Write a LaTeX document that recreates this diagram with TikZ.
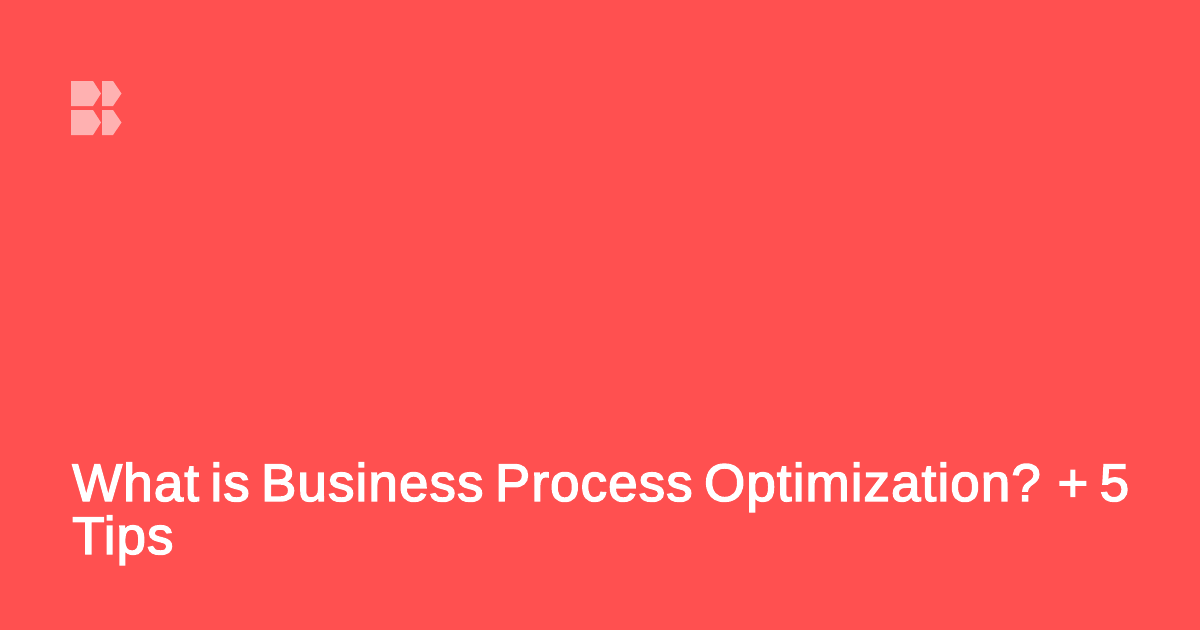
\documentclass[tikz,border=0pt]{standalone}
\usepackage{fontspec}
\newfontfamily\titlefont[FakeBold=2.6,WordSpace=0.72,LetterSpace=2]{Liberation Sans}
\usetikzlibrary{positioning}
\definecolor{bgred}{HTML}{FF5050}
\definecolor{logopink}{HTML}{FFB1B1}
\tikzset{
    logopart/.style={fill=logopink, draw=none},
    titletext/.style={text=white, inner sep=0pt, anchor=base west, align=left,
        font=\titlefont\fontsize{53}{53}\selectfont}
}

\begin{document}
\begin{tikzpicture}[x=1pt,y=-1pt]
                % Define the background
                \fill[bgred] (0,0) rectangle (1200,630);
                \useasboundingbox (0,0) rectangle (1200,630);

                % Logo pieces, top row then bottom row
                \foreach \top/\bot in {81/106, 110/135}
                {
                    \fill[logopart] (71,\top) -- (93,\top) -- (101,{(\top+\bot)/2}) -- (93,\bot) -- (71,\bot) -- cycle;
                    \fill[logopart] (102,\top) -- (113,\top) -- (121.5,{(\top+\bot)/2}) -- (113,\bot) -- (102,\bot) -- cycle;
                }

                % Title
                \node[titletext] (title) at (72,554) {What is Business Process Optimization? + 5\\Tips};
            \end{tikzpicture}
\end{document}
